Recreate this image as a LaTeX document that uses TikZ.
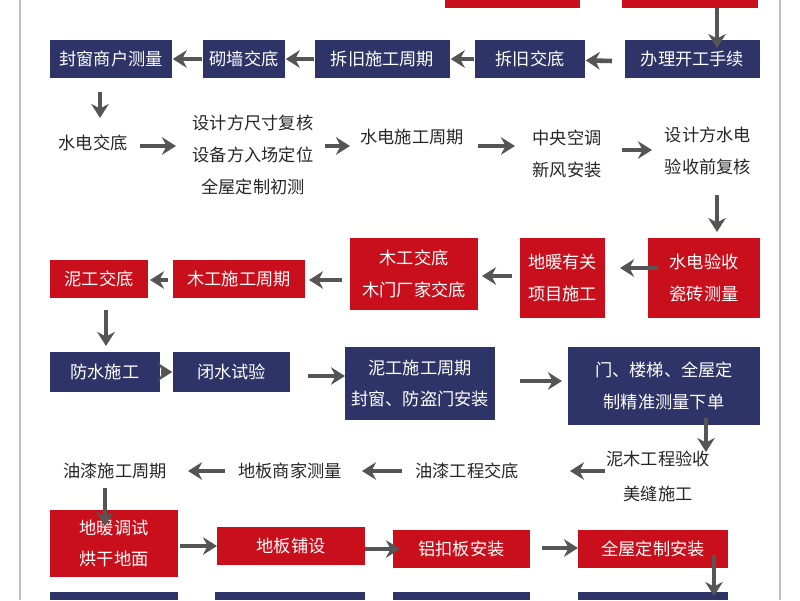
\documentclass[tikz,border=0pt]{standalone}
\usepackage{fontspec}
\setmainfont{Noto Sans CJK SC}
\usetikzlibrary{arrows.meta}
\definecolor{nb}{HTML}{2F3468}
\definecolor{rd}{HTML}{C80F1B}
\definecolor{ar}{HTML}{555555}
\begin{document}
\begin{tikzpicture}[x=0.01cm,y=-0.01cm,
 t/.style={font=\fontsize{4.9pt}{9pt}\selectfont,align=center,inner sep=0},
 bb/.style={fill=nb,text=white,t},
 rb/.style={fill=rd,text=white,t},
 tx/.style={text=black!85,t},
 a/.style={draw=ar,line width=1.3pt,-{Stealth[length=4pt,width=5pt]}}]
\useasboundingbox (0,0) rectangle (800,600);
\draw[gray!50,line width=0.4pt] (20,0)--(20,600) (780,0)--(780,600);
\newcommand\bx[6]{\node[#1,minimum width={(#4-#2)*0.01cm},minimum height={(#5-#3)*0.01cm}] (#6) at ({(#2+#4)/2},{(#3+#5)/2}) {};}
% top partial
\bx{rb}{445}{0}{580}{8}{t1}
\bx{rb}{622}{0}{758}{8}{t2}
% row1
\bx{bb}{50}{40}{172}{78}{r1a}\node[t,text=white] at (r1a) {封窗商户测量};
\bx{bb}{203}{40}{285}{78}{r1b}\node[t,text=white] at (r1b) {砌墙交底};
\bx{bb}{315}{40}{450}{78}{r1c}\node[t,text=white] at (r1c) {拆旧施工周期};
\bx{bb}{475}{40}{585}{78}{r1d}\node[t,text=white] at (r1d) {拆旧交底};
\bx{bb}{625}{40}{760}{78}{r1e}\node[t,text=white] at (r1e) {办理开工手续};
\coordinate (u1) at (717,8); \coordinate (u2) at (717,48); \draw[a] (u1)--(u2);
\coordinate (q1) at (612,61); \draw[a] (q1)--(r1d);
\draw[a] (r1d)--(r1c); \draw[a] (r1c)--(r1b); \draw[a] (r1b)--(r1a);
% row2
\node[tx] (r2a) at (93,143) {水电交底};
\node[tx] (r2b) at (253,155) {设计方尺寸复核\\设备方入场定位\\全屋定制初测};
\node[tx] (r2c) at (412,137) {水电施工周期};
\node[tx] (r2d) at (567,154) {中央空调\\新风安装};
\node[tx] (r2e) at (708,151) {设计方水电\\验收前复核};
\coordinate (c1) at (100,92); \coordinate (c2) at (100,118); \draw[a] (c1)--(c2);
\coordinate (p0) at (140,146); \coordinate (p00) at (176,146); \draw[a] (p0)--(p00);
\coordinate (p1) at (325,146); \coordinate (p2) at (350,146); \draw[a] (p1)--(p2);
\coordinate (p3) at (478,146); \coordinate (p4) at (515,146); \draw[a] (p3)--(p4);
\coordinate (p5) at (622,150); \coordinate (p6) at (652,150); \draw[a] (p5)--(p6);
\coordinate (d1) at (717,195); \coordinate (d2) at (717,232); \draw[a] (d1)--(d2);
% row3
\bx{rb}{648}{238}{760}{318}{r3a}\node[t,text=white] at (r3a) {水电验收\\瓷砖测量};
\bx{rb}{520}{238}{605}{318}{r3b}\node[t,text=white] at (r3b) {地暖有关\\项目施工};
\bx{rb}{350}{238}{478}{310}{r3c}\node[t,text=white] at (r3c) {木工交底\\木门厂家交底};
\bx{rb}{173}{260}{305}{298}{r3d}\node[t,text=white] at (r3d) {木工施工周期};
\bx{rb}{50}{260}{148}{298}{r3e}\node[t,text=white] at (r3e) {泥工交底};
\coordinate (e1) at (658,268); \coordinate (e2) at (620,268); \draw[a] (e1)--(e2);
\coordinate (e3) at (512,276); \coordinate (e4) at (482,276); \draw[a] (e3)--(e4);
\coordinate (e5) at (342,280); \coordinate (e6) at (309,280); \draw[a] (e5)--(e6);
\coordinate (e7) at (168,280); \coordinate (e8) at (150,280); \draw[a] (e7)--(e8);
\coordinate (d3) at (106,310); \coordinate (d4) at (106,346); \draw[a] (d3)--(d4);
% row4
\bx{bb}{50}{352}{160}{392}{r4a}\node[t,text=white] at (r4a) {防水施工};
\bx{bb}{173}{352}{290}{392}{r4b}\node[t,text=white] at (r4b) {闭水试验};
\bx{bb}{345}{347}{495}{420}{r4c}\node[t,text=white] at (r4c) {泥工施工周期\\封窗、防盗门安装};
\bx{bb}{568}{347}{760}{425}{r4d}\node[t,text=white] at (r4d) {门、楼梯、全屋定\\制精准测量下单};
\draw[a] (r4a)--(r4b);
\coordinate (f1) at (308,376); \coordinate (f2) at (345,376); \draw[a] (f1)--(f2);
\coordinate (f3) at (520,381); \coordinate (f4) at (562,381); \draw[a] (f3)--(f4);
\coordinate (d5) at (706,418); \coordinate (d6) at (706,452); \draw[a] (d5)--(d6);
% row5
\node[tx] (r5a) at (658,476) {泥木工程验收\\[1pt]美缝施工};
\node[tx] (r5b) at (467,471) {油漆工程交底};
\node[tx] (r5c) at (290,471) {地板商家测量};
\node[tx] (r5d) at (115,471) {油漆施工周期};
\coordinate (g1) at (605,471); \coordinate (g2) at (570,471); \draw[a] (g1)--(g2);
\coordinate (g3) at (402,471); \coordinate (g4) at (362,471); \draw[a] (g3)--(g4);
\coordinate (g5) at (225,471); \coordinate (g6) at (188,471); \draw[a] (g5)--(g6);
% row6
\bx{rb}{50}{510}{178}{577}{r6a}\node[t,text=white] at (r6a) {地暖调试\\烘干地面};
\bx{rb}{217}{527}{365}{565}{r6b}\node[t,text=white] at (r6b) {地板铺设};
\bx{rb}{393}{530}{530}{568}{r6c}\node[t,text=white] at (r6c) {铝扣板安装};
\bx{rb}{578}{530}{728}{568}{r6d}\node[t,text=white] at (r6d) {全屋定制安装};
\coordinate (d7) at (105,488); \coordinate (d8) at (105,526); \draw[a] (d7)--(d8);
\coordinate (h1) at (180,546); \coordinate (h2) at (217,546); \draw[a] (h1)--(h2);
\coordinate (h3) at (365,549); \coordinate (h4) at (400,549); \draw[a] (h3)--(h4);
\coordinate (h5) at (542,548); \coordinate (h6) at (578,548); \draw[a] (h5)--(h6);
% bottom partial
\bx{bb}{50}{592}{178}{600}{b1}
\bx{bb}{215}{592}{365}{600}{b2}
\bx{bb}{393}{592}{530}{600}{b3}
\bx{bb}{578}{592}{728}{600}{b4}
\coordinate (d9) at (714,555); \coordinate (d10) at (714,596); \draw[a] (d9)--(d10);
\end{tikzpicture}
\end{document}
